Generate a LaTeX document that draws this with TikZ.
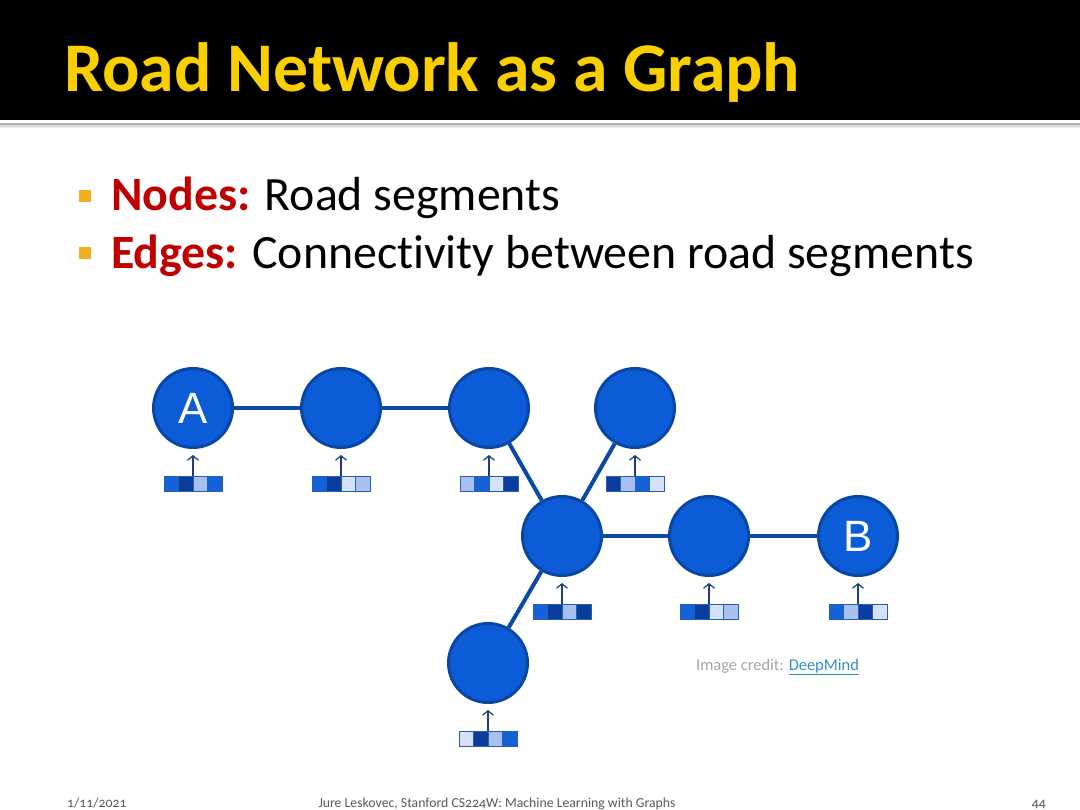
\documentclass[tikz,border=0pt]{standalone}
\usepackage{fontspec}
\setmainfont[Ligatures=NoCommon]{Carlito}
\newfontfamily\labfont{Liberation Sans}
\newfontfamily\footfont[Numbers=OldStyle,Ligatures=NoCommon]{Carlito}
\usetikzlibrary{arrows.meta}

\definecolor{nodefill}{HTML}{0B5CD6}
\definecolor{nodeedge}{HTML}{0847A3}
\definecolor{edgec}{HTML}{0A4AA6}
\definecolor{dk}{HTML}{0A3C9C}
\definecolor{md}{HTML}{1462D8}
\definecolor{lt}{HTML}{A6C1F0}
\definecolor{vl}{HTML}{D4E1F8}
\definecolor{cellborder}{HTML}{2C5DB5}
\definecolor{arrowc}{HTML}{1E3D7A}
\definecolor{titleyellow}{HTML}{F9CF00}
\definecolor{bulletc}{HTML}{F2AE1C}
\definecolor{darkred}{HTML}{C00000}
\definecolor{footgray}{HTML}{595959}
\definecolor{creditgray}{HTML}{A6A6A6}
\definecolor{linkc}{HTML}{2F8FC8}

\tikzset{
  roadnode/.style={circle, fill=nodefill, draw=nodeedge, line width=3bp,
    minimum size=79bp, inner sep=0pt, text=white,
    font=\labfont\fontsize{44}{44}\selectfont},
  road/.style={draw=edgec, line width=4bp},
  fvframe/.style={draw=cellborder, line width=1bp, minimum width=58bp,
    minimum height=15bp, inner sep=0pt, anchor=north},
  featarrow/.style={draw=arrowc, line width=1.2bp,
    -{Straight Barb[length=4.5bp,width=11bp]}, shorten >=6bp},
  bulletsq/.style={fill=bulletc, minimum size=12bp, inner sep=0pt},
  bodytext/.style={anchor=base west, inner sep=0pt,
    font=\fontsize{48}{48}\selectfont},
  foot/.style={inner sep=0pt, text=footgray,
    font=\footfont\fontsize{13.8}{13.8}\selectfont}
}

% #1 node name, #2..#5 cell colours
\newcommand\featvec[5]{%
  \path (n#1.center) ++(0,68) coordinate (fv#1);
  \begin{scope}[shift={(fv#1)}]
    \fill[#2] (-29,0) rectangle (-14.5,15);
    \fill[#3] (-14.5,0) rectangle (0,15);
    \fill[#4] (0,0) rectangle (14.5,15);
    \fill[#5] (14.5,0) rectangle (29,15);
    \draw[cellborder, line width=0.8bp] (-14.5,0) -- (-14.5,15)
      (0,0) -- (0,15) (14.5,0) -- (14.5,15);
  \end{scope}
  \node[fvframe] (f#1) at (fv#1) {};
  \draw[featarrow] (f#1.north) -- (n#1.south);
}

\begin{document}
\begin{tikzpicture}[x=1bp, y=-1bp]
\useasboundingbox (0,0) rectangle (1080,810);
\fill[white] (0,0) rectangle (1080,810);
% header band
\fill[black] (0,0) rectangle (1080,120);
\fill[black!30] (0,122.5) rectangle (1080,124.5);
\fill[black!15] (0,124.5) rectangle (1080,126.5);
\fill[black!6] (0,126.5) rectangle (1080,128);

\node[anchor=base west, inner sep=0pt, text=titleyellow,
  font=\bfseries\fontsize{70}{70}\selectfont] (title) at (64,92)
  {Road Network as a Graph};

% bullets
\node[bulletsq] (b1) at (85,196) {};
\node[bulletsq] (b2) at (85,253) {};
\node[bodytext] (t1) at (111,210)
  {\textcolor{darkred}{\bfseries Nodes:} Road segments};
\node[bodytext] (t2) at (111,268)
  {\textcolor{darkred}{\bfseries Edges:} Connectivity between road segments};

% graph nodes
\node[roadnode] (nA) at (193,408) {A};
\node[roadnode] (n2) at (341,408) {};
\node[roadnode] (n3) at (489,408) {};
\node[roadnode] (n4) at (635,408) {};
\node[roadnode] (nC) at (562,536) {};
\node[roadnode] (n6) at (709,536) {};
\node[roadnode] (nB) at (858,536) {B};
\node[roadnode] (n8) at (488,663) {};

% road connections
\draw[road] (nA) -- (n2);
\draw[road] (n2) -- (n3);
\draw[road] (n3) -- (nC);
\draw[road] (n4) -- (nC);
\draw[road] (nC) -- (n6);
\draw[road] (n6) -- (nB);
\draw[road] (nC) -- (n8);

% feature vectors
\featvec{A}{md}{dk}{lt}{md}
\featvec{2}{md}{dk}{vl}{lt}
\featvec{3}{lt}{md}{vl}{dk}
\featvec{4}{dk}{lt}{md}{vl}
\featvec{C}{md}{dk}{lt}{dk}
\featvec{6}{md}{dk}{vl}{lt}
\featvec{B}{md}{lt}{dk}{vl}
\featvec{8}{vl}{dk}{lt}{md}

% image credit
\node[anchor=base west, inner sep=0pt, font=\fontsize{16.5}{16.5}\selectfont]
  (credit) at (696,670)
  {\textcolor{creditgray}{Image credit:} \textcolor{linkc}{\underline{DeepMind}}};

% footer
\node[foot, anchor=base west] (date) at (67,807) {1/11/2021};
\node[foot, anchor=base] (course) at (497,807)
  {Jure Leskovec, Stanford CS224W: Machine Learning with Graphs};
\node[foot, anchor=base east] (page) at (1046,807) {44};
\end{tikzpicture}
\end{document}
